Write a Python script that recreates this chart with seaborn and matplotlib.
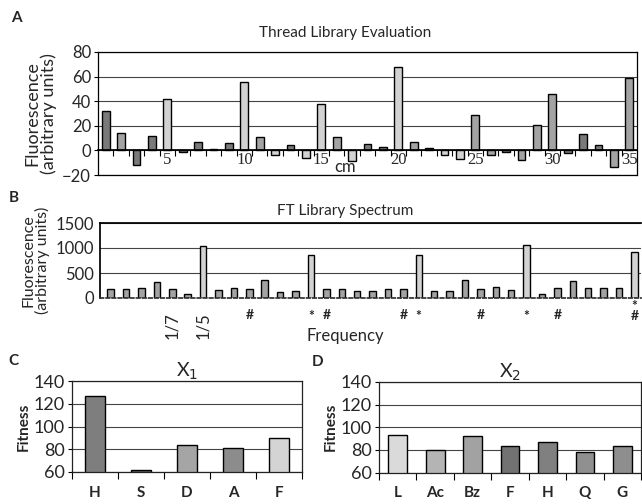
import matplotlib
matplotlib.use('Agg')
import matplotlib.pyplot as plt
import seaborn as sns
from matplotlib.ticker import FixedLocator

sns.set_theme(style='white')
NARROW = ['Lato', 'DejaVu Sans']
plt.rcParams['font.family'] = NARROW

# ---------------- data ----------------
thread_pos = [str(i) for i in range(1, 36)]
thread_vals = [32, 14, -12, 12, 42, -1.5, 7, 1, 6, 56, 11, -4, 4.3, -6, 38,
               11, -9, 5.5, 3, 68, 6.5, 2, -3.5, -7, 28.5, -4, -1, -7.5, 21, 46,
               -2, 13, 4, -13.5, 58.5]
thread_ticks = ['5', '10', '15', '20', '25', '30', '35']

ft_pos = [str(i) for i in range(1, 36)]
ft_vals = [171, 184, 197, 322, 178, 79, 1046, 158, 210, 178, 362, 125, 132, 868, 183,
           183, 137, 137, 183, 183, 869, 150, 131, 366, 183, 222, 170, 1065, 78, 196,
           340, 203, 203, 203, 915]
ft_hash = ['10', '15', '20', '25', '30', '35']
ft_star = ['14', '21', '28', '35']
ft_freq_pos = ['5', '7']
ft_freq_text = ['1/7', '1/5']

x1_res = ['H', 'S', 'D', 'A', 'F']
x1_fit = [127, 62, 84, 81, 90]
x2_res = ['L', 'Ac', 'Bz', 'F', 'H', 'Q', 'G']
x2_fit = [93, 80, 92, 83, 87, 78, 83]

# ---------------- styles ----------------
DK, MD, LT = '#7a7a7a', '#a3a3a3', '#d2d2d2'
shadeA = [DK, MD, DK, DK, LT, DK, DK, DK, DK, LT, MD, LT, DK, LT, LT, MD, LT, DK,
          DK, LT, MD, DK, LT, LT, MD, MD, DK, MD, MD, MD, DK, DK, DK, MD, MD]
shadeC = ['#7e7e7e', '#5e5e5e', '#a5a5a5', '#8c8c8c', '#d4d4d4']
shadeD = ['#dadada', '#b4b4b4', '#a2a2a2', '#727272', '#808080', '#909090', '#8e8e8e']

W, H = 642, 504
fig = plt.figure(figsize=(W / 100, H / 100), dpi=100)


def px_axes(l, t, r, b):
    return fig.add_axes([l / W, 1 - b / H, (r - l) / W, (b - t) / H])


def ftxt(x, y, s, **kw):
    fig.text(x / W, 1 - y / H, s, **kw)


GRID = '#444444'

# ---------------- Panel A ----------------
axA = px_axes(98, 52, 637, 175)
sns.barplot(x=thread_pos, y=thread_vals, hue=thread_pos,
            palette=dict(zip(thread_pos, shadeA)), legend=False, ax=axA,
            width=0.5, edgecolor='black', linewidth=1.0, saturation=1)
axA.set_xlim(-0.5, len(thread_pos) - 0.5)
axA.set_ylim(-20, 80)
axA.set_yticks([-20, 0, 20, 40, 60, 80])
axA.yaxis.grid(True, color=GRID, lw=0.8)
axA.set_axisbelow(True)
for s in ['left', 'top', 'right']:
    axA.spines[s].set_color('black')
    axA.spines[s].set_linewidth(0.9)
axA.spines['bottom'].set_position(('data', 0))
axA.spines['bottom'].set_color('black')
axA.axhline(-20, color='black', lw=0.9, clip_on=False)
tick_idx = [thread_pos.index(t) for t in thread_ticks]
axA.set_xticks(tick_idx)
axA.set_xticklabels(thread_ticks, family=['Liberation Serif'], fontsize=12)
axA.xaxis.set_minor_locator(FixedLocator([i + 0.5 for i in range(len(thread_pos) - 1)]))
axA.tick_params(axis='x', which='major', length=0, pad=1)
axA.tick_params(axis='x', which='minor', length=4, width=0.8, color='black', direction='out', bottom=True)
axA.tick_params(axis='y', labelsize=12, length=3, width=0.8, color='black', left=True, pad=2)
axA.set_xlabel('')
axA.set_ylabel('Fluorescence\n(arbitrary units)', fontsize=13, linespacing=1.0, labelpad=4)
axA.text(0.458, 0.0, 'cm', transform=axA.transAxes, ha='center', va='bottom', fontsize=12)
ftxt(345, 33, 'Thread Library Evaluation', ha='center', va='center', fontsize=11)
ftxt(16, 18, 'A', ha='center', va='center', fontsize=11, fontweight='bold')

# ---------------- Panel B ----------------
axB = px_axes(100, 223, 641, 298)
sns.barplot(x=ft_pos, y=ft_vals, color=MD, ax=axB, width=0.42,
            edgecolor='black', linewidth=1.0, saturation=1)
for p, v in zip(axB.patches, ft_vals):
    if v > 600:
        p.set_facecolor(LT)
axB.set_xlim(-0.695, 34.43)
axB.set_ylim(0, 1500)
axB.set_yticks([0, 500, 1000, 1500])
axB.yaxis.grid(True, color=GRID, lw=0.8)
axB.set_axisbelow(True)
axB.spines['right'].set_visible(False)
axB.spines['left'].set_color('black')
axB.spines['top'].set_color('black')
axB.spines['bottom'].set_color('#333333')
axB.spines['bottom'].set_linestyle((0, (2, 1.5)))
axB.set_xticks([])
axB.tick_params(axis='y', labelsize=12, length=0, pad=4)
axB.set_xlabel('')
axB.set_ylabel('Fluorescence\n(arbitrary units)', fontsize=11.5, linespacing=1.0, labelpad=4)
for k in ft_hash:
    if k in ft_star:
        axB.annotate('*\n#', xy=(ft_pos.index(k), 0), xytext=(0, -2 * 0.72),
                     textcoords='offset points', ha='center', va='top', fontsize=10,
                     fontweight='bold', linespacing=0.85, annotation_clip=False)
    else:
        axB.annotate('#', xy=(ft_pos.index(k), 0), xytext=(0, -17 * 0.72),
                     textcoords='offset points', ha='center', va='center', fontsize=10,
                     fontweight='bold', annotation_clip=False)
for k in ft_star:
    if k not in ft_hash:
        axB.annotate('*', xy=(ft_pos.index(k), 0), xytext=(0, -18 * 0.72),
                     textcoords='offset points', ha='center', va='center', fontsize=10,
                     fontweight='bold', annotation_clip=False)
for k, s in zip(ft_freq_pos, ft_freq_text):
    axB.annotate(s, xy=(ft_pos.index(k), 0), xytext=(0, -28 * 0.72),
                 textcoords='offset points', ha='center', va='center', fontsize=12,
                 rotation=90, annotation_clip=False)
ftxt(345, 211, 'FT Library Spectrum', ha='center', va='center', fontsize=11)
ftxt(345, 336, 'Frequency', ha='center', va='center', fontsize=12)
ftxt(14, 198, 'B', ha='center', va='center', fontsize=11, fontweight='bold')


# ---------------- Panels C & D ----------------
def fitness_panel(ax, res, fit, shades, width, title):
    sns.barplot(x=res, y=fit, hue=res, palette=dict(zip(res, shades)), legend=False,
                ax=ax, width=width, edgecolor='black', linewidth=1.0, saturation=1)
    ax.set_xlim(-0.5, len(res) - 0.5)
    ax.set_ylim(60, 140)
    ax.set_yticks([60, 80, 100, 120, 140])
    ax.yaxis.grid(True, color=GRID, lw=0.8)
    ax.set_axisbelow(True)
    for s in ax.spines.values():
        s.set_color('#222222')
        s.set_linewidth(0.9)
    ax.xaxis.set_minor_locator(FixedLocator([i - 0.5 for i in range(len(res) + 1)]))
    ax.tick_params(axis='x', which='major', length=0, pad=10, labelsize=11)
    ax.tick_params(axis='x', which='minor', length=5, width=0.8, color='black',
                   direction='out', bottom=True)
    for t in ax.get_xticklabels():
        t.set_fontweight('bold')
    ax.tick_params(axis='y', labelsize=13, length=3, width=0.8, color='black', left=True, pad=2)
    ax.set_xlabel('')
    ax.set_ylabel('Fitness', fontsize=11, fontweight='bold', labelpad=2)
    ax.set_title(title, fontsize=14, pad=3)


axC = px_axes(72, 381, 302, 472)
fitness_panel(axC, x1_res, x1_fit, shadeC, 0.42, 'X$_1$')
ftxt(13, 361, 'C', ha='center', va='center', fontsize=11, fontweight='bold')

axD = px_axes(379, 382, 641, 472.5)
fitness_panel(axD, x2_res, x2_fit, shadeD, 0.5, 'X$_2$')
ftxt(318, 362, 'D', ha='center', va='center', fontsize=11, fontweight='bold')

fig.savefig('out.png', dpi=100)
